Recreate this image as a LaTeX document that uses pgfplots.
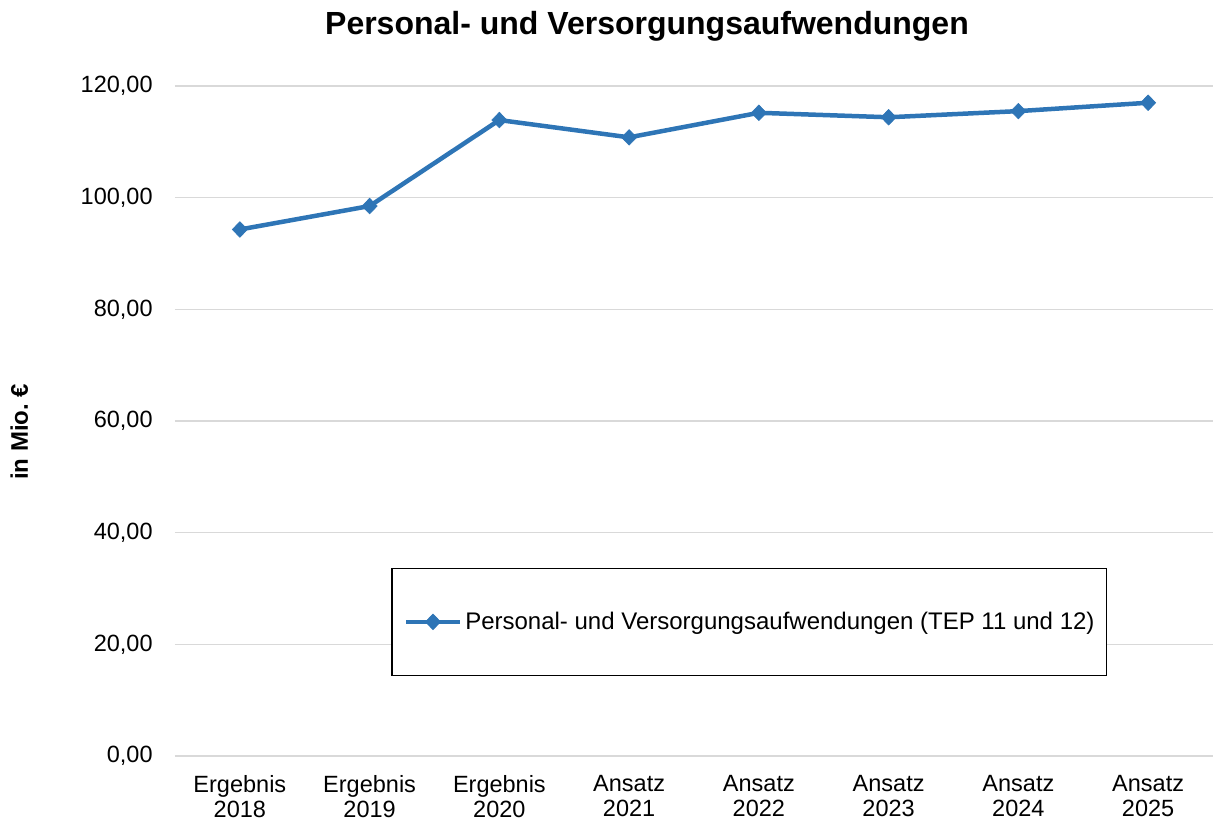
\documentclass[border=0pt]{standalone}
\usepackage{fontspec}
\setmainfont{Liberation Sans}
\usepackage{pgfplots}
\pgfplotsset{compat=1.18}
\definecolor{lineblue}{RGB}{46,117,182}
\definecolor{gridgray}{RGB}{217,217,217}
\begin{document}
\begin{tikzpicture}
\path[use as bounding box] (0,0) rectangle (607.5pt,412.5pt);
\begin{axis}[
  at={(87.5pt,34.5pt)}, anchor=south west,
  scale only axis, width=519pt, height=335pt,
  xmin=-0.5, xmax=7.5, ymin=0, ymax=120,
  xtick={0,1,2,3,4,5,6,7},
  xticklabels={{Ergebnis\\2018},{Ergebnis\\2019},{Ergebnis\\2020},{Ansatz\\2021},{Ansatz\\2022},{Ansatz\\2023},{Ansatz\\2024},{Ansatz\\2025}},
  ytick={0,20,40,60,80,100,120},
  major tick length=0pt,
  axis line style={draw=none},
  ymajorgrids, grid style={gridgray, line width=0.75pt},
  /pgf/number format/fixed, /pgf/number format/fixed zerofill,
  /pgf/number format/precision=2, /pgf/number format/use comma,
  /pgf/number format/1000 sep={}, /pgf/number format/assume math mode=true,
  tick label style={font=\fontsize{11.75}{12.5}\selectfont},
  xticklabel style={align=center, inner sep=0pt, anchor=north, yshift=-9.5pt},
  yticklabel style={inner sep=0pt, anchor=east, xshift=-11pt},
  title={Personal- und Versorgungsaufwendungen},
  title style={at={(axis description cs:0.4547,1)}, anchor=base, yshift=19.5pt, font=\fontsize{16}{19}\selectfont\bfseries},
  ylabel={in Mio.~€},
  ylabel style={at={(axis description cs:-0.15,0.484)}, anchor=center, rotate=0, font=\fontsize{12}{14}\selectfont\bfseries},
  clip=false,
  legend style={at={(0.2081,0.1194)}, anchor=south west, draw=black, line width=0.75pt,
    inner xsep=6pt, inner ysep=21.6pt, font=\fontsize{12}{14}\selectfont,
    nodes={inner sep=0pt}, column sep=1.5pt},
  legend image code/.code={\draw[mark repeat=2,mark phase=2,#1] plot coordinates {(0pt,0pt) (13.5pt,0pt) (27pt,0pt)};},
]
\addplot[color=lineblue, line width=2.25pt, mark=diamond*, mark size=3.9pt,
  mark options={solid, fill=lineblue, draw=lineblue, line width=0.3pt, xscale=1.3}]
  coordinates {(0,94.3) (1,98.5) (2,113.9) (3,110.8) (4,115.2) (5,114.4) (6,115.5) (7,117.0)};
\addlegendentry{Personal- und Versorgungsaufwendungen (TEP 11 und 12)}
\end{axis}
\end{tikzpicture}
\end{document}
